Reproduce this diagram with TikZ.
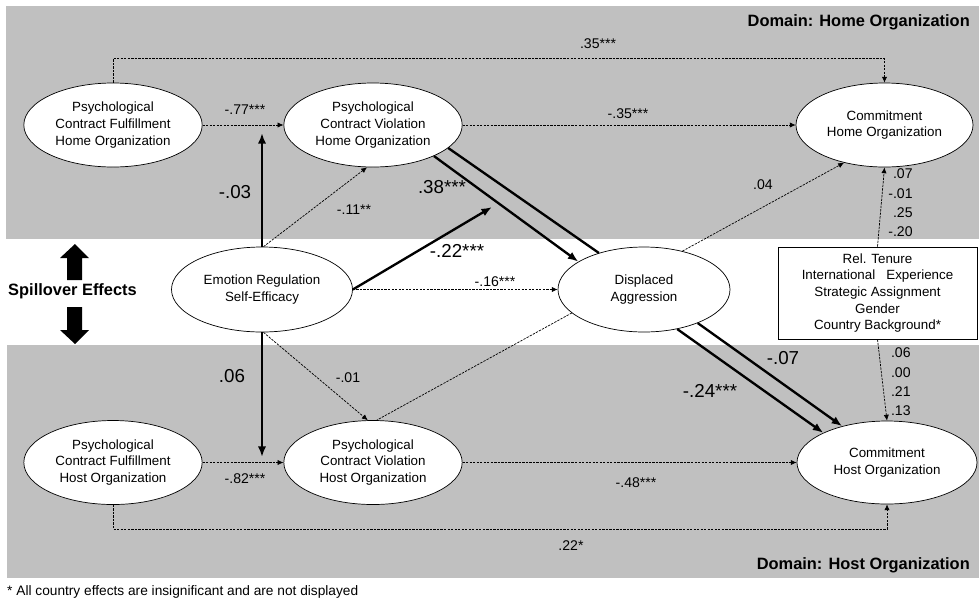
\documentclass[tikz,border=0pt]{standalone}
\usepackage{fontspec}
\setmainfont{Liberation Sans}
\usetikzlibrary{arrows.meta,shapes.geometric}
\definecolor{band}{RGB}{192,192,192}

\begin{document}
\begin{tikzpicture}[x=0.03cm,y=-0.03cm,
        latent/.style={ellipse,draw,fill=white,line width=0.6pt,minimum width=5.35cm,minimum height=2.52cm,inner sep=0pt,align=center,font=\fontsize{11.4}{14.2}\selectfont},
        weak/.style={line width=0.6pt,dash pattern=on 2pt off 1pt,-{Latex[length=5pt,width=4.5pt]}},
        strong/.style={line width=2pt,-{Latex[length=9pt,width=7pt]}},
        coef/.style={font=\fontsize{12}{14}\selectfont,inner sep=1pt},
        bigcoef/.style={font=\fontsize{16}{18}\selectfont,inner sep=1pt},
        domtitle/.style={font=\fontsize{14}{16}\selectfont\bfseries,inner sep=0pt,anchor=east}]
        \useasboundingbox (0,0) rectangle (979,602);
        % domains
        \fill[band] (6,6) rectangle (979,239);
        \fill[band] (7,345) rectangle (979,578);
        \node[domtitle] (homet) at (970,22) {Domain: Home Organization};
        \node[domtitle] (hostt) at (970,565) {Domain: Host Organization};
        % spillover
        \fill (67,280) -- (67,258) -- (60,258) -- (75,244) -- (89,258) -- (82,258) -- (82,280) -- cycle;
        \fill (67,307) -- (67,330) -- (60,330) -- (75,344) -- (89,330) -- (82,330) -- (82,307) -- cycle;
        \node[font=\fontsize{14}{16}\selectfont\bfseries,inner sep=0pt,anchor=west] (spill) at (8,291) {Spillover Effects};
        % constructs
        \node[latent] (pcfh) at (113,125) {Psychological\\Contract Fulfillment\\Home Organization};
        \node[latent] (pcvh) at (373,125) {Psychological\\Contract Violation\\Home Organization};
        \node[latent,minimum width=5.31cm] (chome) at (884.5,125) {Commitment\\Home Organization};
        \node[latent,minimum width=5.43cm,minimum height=2.55cm] (er) at (262,289.5) {Emotion Regulation\\Self-Efficacy};
        \node[latent,minimum width=5.16cm,minimum height=2.55cm] (da) at (644,289.5) {Displaced\\Aggression};
        \node[draw,fill=white,line width=0.8pt,minimum width=5.97cm,minimum height=2.76cm,inner sep=2pt,align=center,font=\fontsize{11.4}{14.2}\selectfont] (ctrl) at (877.5,293) {Rel. Tenure\\International \ \ Experience\\Strategic Assignment\\Gender\\Country Background*};
        \node[latent] (pcfs) at (113,462.5) {Psychological\\Contract Fulfillment\\Host Organization};
        \node[latent] (pcvs) at (373,462.5) {Psychological\\Contract Violation\\Host Organization};
        \node[latent,minimum width=5.4cm,minimum height=2.49cm] (chost) at (887,462.5) {Commitment\\Host Organization};
        \coordinate (m1) at (262,133);
        \coordinate (m2) at (492,207);
        \coordinate (m3) at (262,457);
        % paths
        \draw[weak] (pcfh) -- (pcvh);
        \draw[weak] (pcfh.north) -- ++(0,-24) -| (chome.north);
        \draw[weak] (pcvh) -- (chome);
        \draw[strong] (er.north) -- (m1);
        \draw[weak] (er.88) -- (pcvh.-98);
        \draw[strong] (er.east) -- (m2);
        \draw[strong] (pcvh.-27) -- (da.157);
        \draw[strong,-] (pcvh.-17) -- (da.141);
        \draw[weak] (er) -- (da);
        \draw[weak] (da.45) -- (chome.-137);
        \draw[weak] (ctrl.north) -- (chome.south);
        \draw[weak] (ctrl.south) -- (chost.north);
        \draw[strong] (er.south) -- (m3);
        \draw[weak] (er.-88) -- (pcvs.97);
        \draw[weak,-] (da.-162) -- (pcvs.85);
        \draw[weak] (pcfs) -- (pcvs);
        \draw[weak] (pcvs) -- (chost);
        \draw[weak] (pcfs.south) -- ++(0,24) -| (chost.south);
        \draw[strong] (da.-50) -- (chost.155);
        \draw[strong] (da.-32) -- (chost.141);
        % coefficients
        \node[coef] (c77) at (245,110) {-.77***};
        \node[coef] (c35a) at (598,44) {.35***};
        \node[coef] (c35b) at (628,114) {-.35***};
        \node[bigcoef] (c03) at (235,192) {-.03};
        \node[coef] (c11) at (354,210) {-.11**};
        \node[bigcoef] (c38) at (442,187) {.38***};
        \node[bigcoef] (c22) at (457,251) {-.22***};
        \node[coef] (c16) at (495,282) {-.16***};
        \node[coef] (c04) at (763,185) {.04};
        \node[bigcoef] (c06) at (232,376) {.06};
        \node[coef] (c01) at (348,378) {-.01};
        \node[coef] (c82) at (245,479) {-.82***};
        \node[coef] (c48) at (636,483) {-.48***};
        \node[coef] (c22s) at (571,546) {.22*};
        \node[bigcoef] (c07) at (783,358) {-.07};
        \node[bigcoef] (c24) at (710,391) {-.24***};
        \foreach \v [count=\i] in {.07,-.01,.25,-.20}
            \node[coef,anchor=east] (up\i) at (914,{174+19.3*(\i-1)}) {\v};
        \foreach \v [count=\i] in {.06,.00,.21,.13}
            \node[coef,anchor=east] (lo\i) at (912,{353+19.3*(\i-1)}) {\v};
        \node[font=\fontsize{11.7}{13}\selectfont,inner sep=0pt,anchor=west] (note) at (7,592) {* All country effects are insignificant and are not displayed};
    \end{tikzpicture}
\end{document}
